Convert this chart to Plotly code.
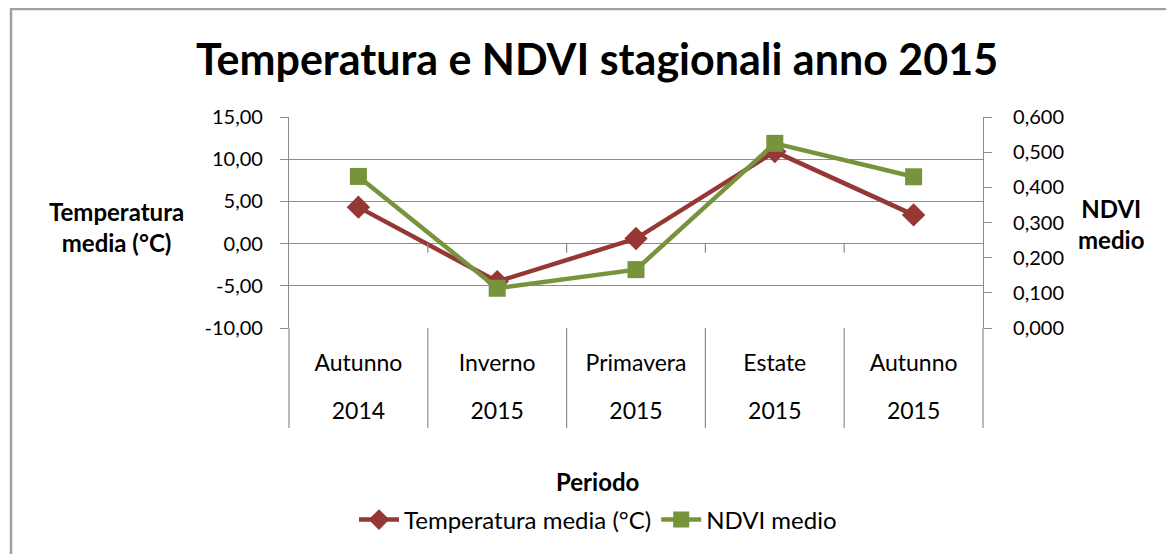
import plotly.graph_objects as go

seasons = ["Autunno", "Inverno", "Primavera", "Estate", "Autunno"]
years = ["2014", "2015", "2015", "2015", "2015"]
temperatura = [4.32, -4.5, 0.6, 10.9, 3.4]
ndvi = [0.431, 0.113, 0.166, 0.525, 0.430]
left_ticks = [-10, -5, 0, 5, 10, 15]
right_ticks = [0.0, 0.1, 0.2, 0.3, 0.4, 0.5, 0.6]

cats = [f"{s} {y}" for s, y in zip(seasons, years)]
FONT = "Lato, Carlito, Calibri, sans-serif"
RED = "#953735"
GREEN = "#77933C"
GRID = "#8c8c8c"

fig = go.Figure()
fig.add_trace(go.Scatter(
    x=cats, y=temperatura, name="Temperatura media (°C)", mode="lines+markers",
    line=dict(color=RED, width=4.5), marker=dict(symbol="diamond", size=18, color=RED),
    yaxis="y"))
fig.add_trace(go.Scatter(
    x=cats, y=ndvi, name="NDVI medio", mode="lines+markers",
    line=dict(color=GREEN, width=4.5), marker=dict(symbol="square", size=17, color=GREEN),
    yaxis="y2"))
# empty helper trace carrying the year row of the category axis
fig.add_trace(go.Scatter(x=cats, y=[None] * len(cats), xaxis="x2", yaxis="y",
                         showlegend=False, hoverinfo="skip", mode="lines"))

OFF = 8  # page body margin
W, H = 1174 - OFF, 554 - OFF
PL, PT, PR, PB = 289, 117, 983, 328  # plot area in page pixels
L, T = PL - OFF, PT - OFF
R = W - (PR - OFF)
B = H - (PB - OFF)
ph = H - T - B
pw = W - L - R

def px_x(x):
    return (x - PL) / pw

def px_y(y):
    return (PB - y) / ph

shapes = []
# category dividers below the plot
for k in range(len(cats) + 1):
    shapes.append(dict(type="line", xref="x domain", yref="paper",
                       x0=k / len(cats), x1=k / len(cats), y0=0, y1=-100 / ph,
                       line=dict(color=GRID, width=1.2)))
# small ticks on the zero line
for k in range(1, len(cats)):
    shapes.append(dict(type="line", xref="x domain", yref="y",
                       x0=k / len(cats), x1=k / len(cats), y0=0, y1=-1.08,
                       line=dict(color=GRID, width=1.2)))
# chart border
shapes.append(dict(type="rect", xref="paper", yref="paper",
                   x0=px_x(11), x1=px_x(1190), y0=px_y(580), y1=px_y(9),
                   line=dict(color="#a0a0a0", width=2.5), layer="below"))

annotations = [
    dict(text="<b>Temperatura<br>media (°C)</b>", xref="paper", yref="paper",
         x=px_x(116), y=px_y(227), xanchor="center", yanchor="middle",
         showarrow=False, font=dict(size=24, color="#000"), align="center"),
    dict(text="<b>NDVI<br>medio</b>", xref="paper", yref="paper",
         x=px_x(1111), y=px_y(224), xanchor="center", yanchor="middle",
         showarrow=False, font=dict(size=24, color="#000"), align="center"),
    dict(text="<b>Periodo</b>", xref="paper", yref="paper",
         x=px_x(597), y=px_y(481), xanchor="center", yanchor="middle",
         showarrow=False, font=dict(size=24, color="#000")),
]

xcommon = dict(type="category", categoryorder="array", categoryarray=cats,
               range=[-0.5, len(cats) - 0.5], autorange=False,
               showgrid=False, ticks="", showline=False, zeroline=False,
               tickfont=dict(size=23), automargin=False, tickvals=cats)

fig.update_layout(
    width=W, height=H,
    margin=dict(l=L, r=R, t=T, b=B, autoexpand=False),
    paper_bgcolor="white", plot_bgcolor="white",
    font=dict(family=FONT, color="#000", size=20),
    title=dict(text="<b>Temperatura e NDVI stagionali anno 2015</b>",
               x=px_x(597), xref="paper", xanchor="center",
               y=1 - (60 - OFF) / H, yref="container", yanchor="middle",
               font=dict(size=43, color="#000")),
    xaxis=dict(**xcommon, ticktext=seasons, ticklabelstandoff=19),
    xaxis2=dict(**xcommon, ticktext=years, ticklabelstandoff=67,
                overlaying="x", side="bottom", anchor="y"),
    yaxis=dict(range=[-10, 15], tickvals=left_ticks,
               ticktext=[f"{v:.2f}".replace(".", ",") for v in left_ticks],
               showgrid=True, gridcolor=GRID, gridwidth=1.2, zeroline=False,
               showline=True, linecolor=GRID, linewidth=1.2,
               ticks="outside", ticklen=8, tickcolor=GRID, tickwidth=1.2,
               ticklabelstandoff=13, tickfont=dict(size=20), automargin=False),
    yaxis2=dict(range=[0, 0.6], tickvals=right_ticks,
                ticktext=[f"{v:.3f}".replace(".", ",") for v in right_ticks],
                overlaying="y", side="right", showgrid=False, zeroline=False,
                showline=True, linecolor=GRID, linewidth=1.2,
                ticks="outside", ticklen=8, tickcolor=GRID, tickwidth=1.2,
                ticklabelstandoff=17, tickfont=dict(size=20), automargin=False),
    legend=dict(orientation="h", x=px_x(598), xanchor="center", y=px_y(520),
                yanchor="middle", font=dict(size=24), bgcolor="rgba(0,0,0,0)",
                itemwidth=40),
    shapes=shapes,
    annotations=annotations,
)

fig.write_html("out.html")
